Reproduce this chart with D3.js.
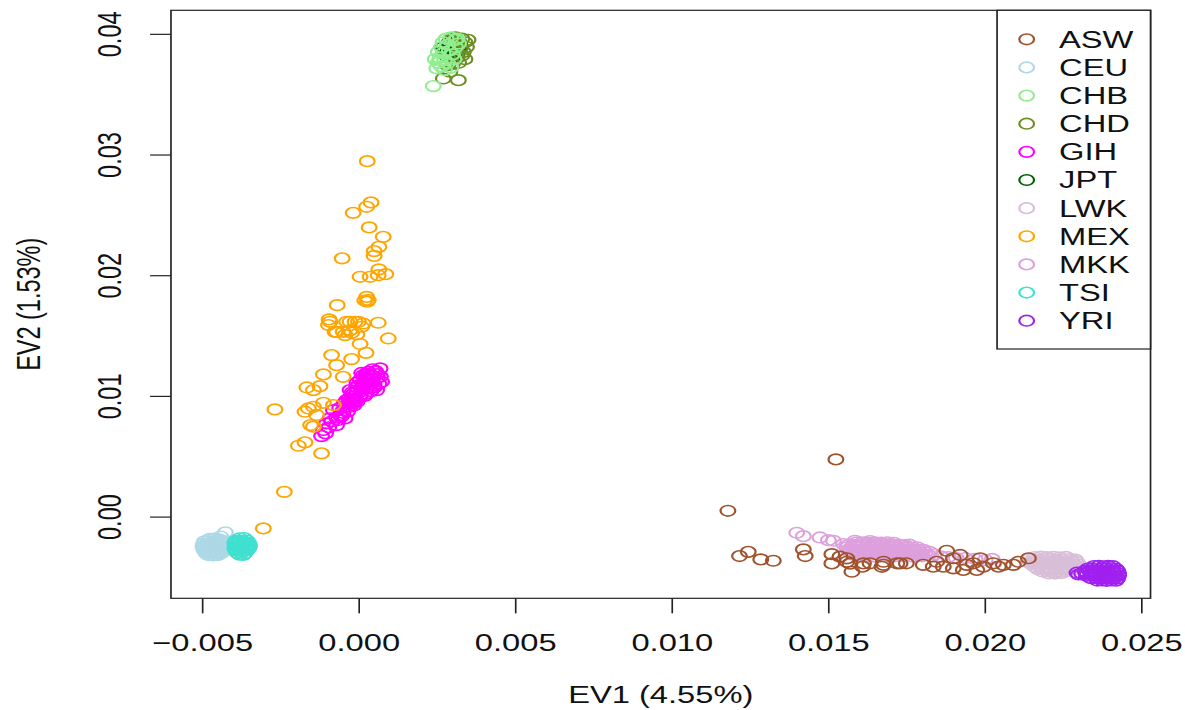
<!DOCTYPE html>
<html><head><meta charset="utf-8">
<script src="https://cdn.jsdelivr.net/npm/d3@7"></script>
<style>html,body{margin:0;padding:0;background:#fff;overflow:hidden}</style>
</head><body>
<svg id="chart" width="1185" height="710" viewBox="0 0 852.5 710" preserveAspectRatio="none"></svg>
<script>
// ---------------- data ----------------
const populations = ["ASW","CEU","CHB","CHD","GIH","JPT","LWK","MEX","MKK","TSI","YRI"];
const popColors   = ["#A0522D","#ADD8E6","#90EE90","#6B8E23","#FF00FF","#006400","#D8BFD8","#FFA500","#DDA0DD","#40E0D0","#A020F0"];
const drawOrder   = ["CEU","TSI","JPT","CHD","CHB","GIH","MEX","MKK","LWK","ASW","YRI"];

const ASW = [[0.01525,0.00474],[0.01180,0.00048],[0.01217,-0.00327],[0.01245,-0.00292],[0.01285,-0.00355],[0.01325,-0.00366],[0.01421,-0.00272],[0.01427,-0.00327],[0.01512,-0.00311],[0.01512,-0.00388],[0.01560,-0.00346],[0.01576,-0.00457],[0.01570,-0.00390],[0.01613,-0.00388],[0.01672,-0.00416],[0.01677,-0.00374],[0.01730,-0.00388],[0.01538,-0.00332],[0.01560,-0.00374],[0.01677,-0.00400],[0.01720,-0.00387],[0.01804,-0.00400],[0.01847,-0.00374],[0.01879,-0.00283],[0.01900,-0.00345],[0.01922,-0.00318],[0.01943,-0.00400],[0.01964,-0.00387],[0.01986,-0.00345],[0.01996,-0.00415],[0.02028,-0.00387],[0.02060,-0.00400],[0.02092,-0.00400],[0.02140,-0.00345],[0.01932,-0.00442],[0.01868,-0.00415],[0.01750,-0.00387],[0.01634,-0.00387],[0.01610,-0.00415],[0.01975,-0.00442],[0.02044,-0.00415],[0.02108,-0.00374],[0.01900,-0.00429],[0.01836,-0.00415]];
const CEU = [[-0.00425,-0.00130],[-0.00440,-0.00165],
 [-0.00475,-0.00185],[-0.00460,-0.00182],[-0.00445,-0.00188],
 [-0.00492,-0.00205],[-0.00480,-0.00203],[-0.00468,-0.00207],[-0.00455,-0.00204],[-0.00442,-0.00206],[-0.00430,-0.00203],
 [-0.00495,-0.00225],[-0.00485,-0.00227],[-0.00473,-0.00224],[-0.00460,-0.00226],[-0.00448,-0.00223],[-0.00436,-0.00227],[-0.00428,-0.00225],
 [-0.00497,-0.00245],[-0.00488,-0.00246],[-0.00476,-0.00243],[-0.00463,-0.00246],[-0.00450,-0.00244],[-0.00438,-0.00247],[-0.00428,-0.00245],
 [-0.00495,-0.00265],[-0.00485,-0.00266],[-0.00472,-0.00263],[-0.00460,-0.00267],[-0.00448,-0.00264],[-0.00436,-0.00266],[-0.00429,-0.00264],
 [-0.00492,-0.00285],[-0.00482,-0.00286],[-0.00470,-0.00283],[-0.00458,-0.00287],[-0.00446,-0.00284],[-0.00435,-0.00285],
 [-0.00486,-0.00305],[-0.00474,-0.00306],[-0.00462,-0.00303],[-0.00450,-0.00306],[-0.00439,-0.00304],
 [-0.00478,-0.00320],[-0.00464,-0.00322],[-0.00450,-0.00319]];
const CHB = [[0.00239,0.03567],[0.00250,0.03714],[0.00255,0.0376],[0.00260,0.0380],[0.00255,0.0385],[0.00265,0.0389],[0.00270,0.0393],[0.00280,0.0396],[0.00295,0.0397],[0.00310,0.0395],[0.00320,0.0392],[0.00265,0.0373],[0.00275,0.0370],[0.00285,0.0376],[0.00270,0.0384],[0.00290,0.0386],[0.00300,0.0383],[0.00305,0.0379],[0.00260,0.0378],[0.00275,0.03785],[0.00315,0.0396],[0.00285,0.0391],[0.00245,0.0379],[0.00295,0.0372],[0.00310,0.0389]];
const CHD = [[0.00330,0.0396],[0.00340,0.0393],[0.00345,0.0389],[0.00335,0.0385],[0.00320,0.0394],[0.00310,0.0397],[0.00350,0.0395],[0.00330,0.0382],[0.00340,0.0379],[0.00320,0.0376],[0.00300,0.0375],[0.00285,0.0374],[0.00319,0.03616],[0.00271,0.0363],[0.00292,0.03686],[0.00315,0.0380],[0.00305,0.0390],[0.00295,0.0395],[0.00325,0.0388]];
const GIH = [[-0.00118,0.00667],[-0.00112,0.00717],[-0.00102,0.00772],[-0.00070,0.00758],[-0.00059,0.00841],[-0.00080,0.00882],[-0.00049,0.00882],[-0.00027,0.00910],[-0.00038,0.00965],[-0.00017,0.00992],[0.00005,0.01007],[-0.00027,0.01048],[-0.00006,0.01075],[0.00015,0.01075],[0.00037,0.01062],[0.00005,0.01131],[0.00026,0.01145],[0.00047,0.01158],[0.00069,0.01228],[0.00053,0.01200],[0.00031,0.01200],[0.00074,0.01117],[0.00058,0.01048],[-0.00043,0.00814],[-0.00091,0.00814],[-0.00095,0.00740],[-0.00085,0.00790],[-0.00060,0.00900],[-0.00045,0.00940],[-0.00010,0.00960],[0.00010,0.01040],[0.00020,0.01100],[0.00040,0.01110],[0.00035,0.01180],[0.00015,0.01170],[-0.00015,0.01020],[0.00000,0.01090],[0.00045,0.01220],[0.00060,0.01180],[-0.00030,0.00980],[0.00025,0.01020],[-0.00065,0.00800],[-0.00105,0.00690],[0.00050,0.01090],[0.00010,0.01190],
 [-0.00035,0.00930],[-0.00020,0.00940],[-0.00005,0.00950],[-0.00025,0.00970],[-0.00010,0.00980],[0.00005,0.00990],[0.00020,0.01000],[-0.00020,0.01030],[-0.00005,0.01040],[0.00010,0.01060],[0.00025,0.01060],[0.00040,0.01040],[0.00050,0.01070],[0.00030,0.01090],[0.00015,0.01100],[-0.00005,0.01110],[0.00030,0.01130],[0.00045,0.01140],[0.00060,0.01150],[0.00020,0.01150],[0.00040,0.01170],[0.00055,0.01205],[0.00025,0.01185],[0.00065,0.01100],[0.00070,0.01160],[-0.00050,0.00860],[-0.00070,0.00820],[-0.00055,0.00830],[-0.00035,0.00870],[-0.00015,0.00920]];
const JPT = [[0.00275,0.0386],[0.00285,0.0389],[0.00295,0.0384],[0.00305,0.0388],[0.00315,0.0391],[0.00290,0.0393],[0.00300,0.0381],[0.00280,0.0382],[0.00310,0.0385],[0.00320,0.0387],[0.00270,0.0389],[0.00295,0.0387],[0.00305,0.0392],[0.00285,0.0385],[0.00315,0.0383],[0.00325,0.0390],[0.00290,0.0380],[0.00300,0.0395]];
const LWK = [[0.02160,-0.00335],[0.02180,-0.00332],[0.02200,-0.00336],[0.02220,-0.00333],[0.02240,-0.00337],[0.02260,-0.00334],
 [0.02140,-0.00355],[0.02155,-0.00353],[0.02170,-0.00357],[0.02185,-0.00354],[0.02200,-0.00356],[0.02215,-0.00353],[0.02230,-0.00357],[0.02245,-0.00354],[0.02260,-0.00356],[0.02275,-0.00353],[0.02290,-0.00357],
 [0.02145,-0.00375],[0.02160,-0.00373],[0.02175,-0.00377],[0.02190,-0.00374],[0.02205,-0.00376],[0.02220,-0.00373],[0.02235,-0.00377],[0.02250,-0.00374],[0.02265,-0.00376],[0.02280,-0.00373],[0.02295,-0.00377],
 [0.02150,-0.00395],[0.02165,-0.00393],[0.02180,-0.00397],[0.02195,-0.00394],[0.02210,-0.00396],[0.02225,-0.00393],[0.02240,-0.00397],[0.02255,-0.00394],[0.02270,-0.00396],[0.02285,-0.00393],[0.02300,-0.00397],
 [0.02160,-0.00415],[0.02175,-0.00413],[0.02190,-0.00417],[0.02205,-0.00414],[0.02220,-0.00416],[0.02235,-0.00413],[0.02250,-0.00417],[0.02265,-0.00414],[0.02280,-0.00416],[0.02295,-0.00413],
 [0.02170,-0.00435],[0.02185,-0.00433],[0.02200,-0.00437],[0.02215,-0.00434],[0.02230,-0.00436],[0.02245,-0.00433],[0.02260,-0.00437],[0.02275,-0.00434],[0.02290,-0.00436],
 [0.02185,-0.00455],[0.02200,-0.00453],[0.02215,-0.00457],[0.02230,-0.00454],[0.02245,-0.00456],[0.02260,-0.00453],
 [0.02205,-0.00470],[0.02225,-0.00472],[0.02245,-0.00469]];
const MEX = [[0.00028,0.02945],[0.00040,0.02603],[0.00026,0.02567],[-0.00017,0.02517],[0.00034,0.02396],[0.00079,0.02318],[0.00065,0.02235],[0.00050,0.02200],[0.00050,0.02160],[-0.00052,0.02140],[0.00065,0.02048],[0.00087,0.02009],[0.00005,0.01987],[0.00037,0.01987],[0.00063,0.02000],[0.00026,0.01820],[0.00031,0.01794],[0.00020,0.01790],[0.00028,0.01780],[-0.00068,0.01752],[-0.00094,0.01634],[-0.00096,0.01587],[-0.00027,0.01614],[0.00000,0.01614],[0.00063,0.01606],[-0.00075,0.01531],[-0.00049,0.01531],[-0.00022,0.01523],[0.00010,0.01573],[0.00095,0.01476],[-0.00091,0.01614],[-0.00038,0.01614],[-0.00011,0.01614],[0.00015,0.01600],[-0.00070,0.01530],[-0.00027,0.01545],[-0.00005,0.01510],[-0.00043,0.01504],[0.00005,0.01430],[0.00024,0.01357],[-0.00086,0.01338],[-0.00022,0.01305],[-0.00070,0.01255],[-0.00112,0.01178],[-0.00049,0.01158],[-0.00165,0.01070],[-0.00123,0.01081],[-0.00144,0.01048],[-0.00267,0.00888],[-0.00160,0.00896],[-0.00144,0.00910],[-0.00112,0.00943],[-0.00080,0.00924],[-0.00153,0.00758],[-0.00192,0.00587],[-0.00171,0.00615],[-0.00118,0.00524],[-0.00237,0.00205],[-0.00304,-0.00098],[-0.00171,0.00869],[-0.00134,0.00842],[-0.00144,0.00745]];
const MKK = [[0.01400,-0.00134],[0.01421,-0.00162],[0.01474,-0.00173],[0.01501,-0.00195],[0.01517,-0.00200],[0.01549,-0.00228],[0.01586,-0.00200],[0.01634,-0.00203],
 [0.01590,-0.00215],[0.01610,-0.00213],[0.01630,-0.00217],[0.01650,-0.00214],[0.01670,-0.00216],[0.01690,-0.00213],[0.01710,-0.00217],
 [0.01565,-0.00235],[0.01580,-0.00233],[0.01595,-0.00237],[0.01610,-0.00234],[0.01625,-0.00236],[0.01640,-0.00233],[0.01655,-0.00237],[0.01670,-0.00234],[0.01685,-0.00236],[0.01700,-0.00233],[0.01715,-0.00237],[0.01730,-0.00234],[0.01745,-0.00236],[0.01760,-0.00233],
 [0.01560,-0.00255],[0.01575,-0.00253],[0.01590,-0.00257],[0.01605,-0.00254],[0.01620,-0.00256],[0.01635,-0.00253],[0.01650,-0.00257],[0.01665,-0.00254],[0.01680,-0.00256],[0.01695,-0.00253],[0.01710,-0.00257],[0.01725,-0.00254],[0.01740,-0.00256],[0.01755,-0.00253],[0.01770,-0.00257],[0.01785,-0.00254],
 [0.01565,-0.00275],[0.01580,-0.00273],[0.01595,-0.00277],[0.01610,-0.00274],[0.01625,-0.00276],[0.01640,-0.00273],[0.01655,-0.00277],[0.01670,-0.00274],[0.01685,-0.00276],[0.01700,-0.00273],[0.01715,-0.00277],[0.01730,-0.00274],[0.01745,-0.00276],[0.01760,-0.00273],[0.01775,-0.00277],[0.01790,-0.00274],[0.01805,-0.00276],
 [0.01570,-0.00295],[0.01585,-0.00293],[0.01600,-0.00297],[0.01615,-0.00294],[0.01630,-0.00296],[0.01645,-0.00293],[0.01660,-0.00297],[0.01675,-0.00294],[0.01690,-0.00296],[0.01705,-0.00293],[0.01720,-0.00297],[0.01735,-0.00294],[0.01750,-0.00296],[0.01765,-0.00293],[0.01780,-0.00297],[0.01795,-0.00294],[0.01810,-0.00296],[0.01825,-0.00293],
 [0.01580,-0.00315],[0.01600,-0.00313],[0.01620,-0.00317],[0.01640,-0.00314],[0.01660,-0.00316],[0.01680,-0.00313],[0.01700,-0.00317],[0.01720,-0.00314],[0.01740,-0.00316],[0.01760,-0.00313],[0.01780,-0.00317],[0.01800,-0.00314],[0.01820,-0.00316],[0.01840,-0.00313],
 [0.01620,-0.00330],[0.01650,-0.00332],[0.01680,-0.00329],[0.01710,-0.00331],[0.01740,-0.00330],[0.01770,-0.00332],[0.01800,-0.00329],[0.01830,-0.00331],[0.01860,-0.00330],
 [0.01884,-0.00335],[0.01909,-0.00343],[0.01938,-0.00343],[0.01970,-0.00351],[0.02002,-0.00360],[0.02024,-0.00351]];
const TSI = [[-0.00380,-0.00180],[-0.00365,-0.00178],
 [-0.00392,-0.00200],[-0.00380,-0.00198],[-0.00368,-0.00202],[-0.00356,-0.00199],
 [-0.00395,-0.00220],[-0.00383,-0.00218],[-0.00371,-0.00222],[-0.00359,-0.00219],[-0.00350,-0.00221],
 [-0.00393,-0.00240],[-0.00381,-0.00238],[-0.00369,-0.00242],[-0.00357,-0.00239],[-0.00348,-0.00241],
 [-0.00395,-0.00260],[-0.00383,-0.00258],[-0.00370,-0.00262],[-0.00358,-0.00259],[-0.00350,-0.00261],
 [-0.00392,-0.00280],[-0.00380,-0.00278],[-0.00368,-0.00282],[-0.00356,-0.00279],
 [-0.00388,-0.00300],[-0.00375,-0.00298],[-0.00362,-0.00302],
 [-0.00380,-0.00315],[-0.00368,-0.00317]];
const YRI = [[0.02350,-0.00410],[0.02365,-0.00408],[0.02380,-0.00412],[0.02395,-0.00409],[0.02410,-0.00411],
 [0.02330,-0.00430],[0.02345,-0.00428],[0.02360,-0.00432],[0.02375,-0.00429],[0.02390,-0.00431],[0.02405,-0.00428],[0.02420,-0.00432],
 [0.02320,-0.00450],[0.02335,-0.00448],[0.02350,-0.00452],[0.02365,-0.00449],[0.02380,-0.00451],[0.02395,-0.00448],[0.02410,-0.00452],[0.02425,-0.00449],
 [0.02310,-0.00470],[0.02325,-0.00468],[0.02340,-0.00472],[0.02355,-0.00469],[0.02370,-0.00471],[0.02385,-0.00468],[0.02400,-0.00472],[0.02415,-0.00469],[0.02428,-0.00471],
 [0.02325,-0.00490],[0.02340,-0.00488],[0.02355,-0.00492],[0.02370,-0.00489],[0.02385,-0.00491],[0.02400,-0.00488],[0.02415,-0.00492],[0.02428,-0.00489],
 [0.02340,-0.00510],[0.02355,-0.00508],[0.02370,-0.00512],[0.02385,-0.00509],[0.02400,-0.00511],[0.02415,-0.00508],[0.02425,-0.00512],
 [0.02360,-0.00530],[0.02375,-0.00528],[0.02390,-0.00532],[0.02405,-0.00529],[0.02420,-0.00531],
 [0.02300,-0.00480],[0.02295,-0.00465]];

const xTicks = [-0.005, 0, 0.005, 0.010, 0.015, 0.020, 0.025];
const xTickLabels = ["\u22120.005","0.000","0.005","0.010","0.015","0.020","0.025"];
const yTicks = [0, 0.01, 0.02, 0.03, 0.04];
const yTickLabels = ["0.00","0.01","0.02","0.03","0.04"];
const xTitle = "EV1 (4.55%)";
const yTitle = "EV2 (1.53%)";

const popData = {ASW, CEU, CHB, CHD, GIH, JPT, LWK, MEX, MKK, TSI, YRI};

// ---------------- drawing ----------------
const FONT = "'Liberation Sans', Arial, Helvetica, sans-serif";
const FS = 23.5;
const plot = {left: 123.0, right: 827.7, top: 10.3, bottom: 598.3};
const svg = d3.select("#chart");
svg.append("rect").attr("width", 852.5).attr("height", 710).attr("fill", "#fff");

const x = d3.scaleLinear().domain([-0.00599, 0.02530]).range([plot.left, plot.right]);
const y = d3.scaleLinear().domain([-0.00677, 0.04195]).range([plot.bottom, plot.top]);
const color = d3.scaleOrdinal().domain(populations).range(popColors);

const R = 5.3, SW = 1.6;

const pts = svg.append("g");
drawOrder.forEach(p => {
  pts.append("g").selectAll("circle").data(popData[p]).join("circle")
    .attr("cx", d => x(d[0])).attr("cy", d => y(d[1])).attr("r", R)
    .attr("fill", "none").attr("stroke", color(p)).attr("stroke-width", SW);
});

// box
svg.append("rect").attr("x", plot.left).attr("y", plot.top)
  .attr("width", plot.right - plot.left).attr("height", plot.bottom - plot.top)
  .attr("fill", "none").attr("stroke", "#222").attr("stroke-width", 1.2);

// x axis
const gx = svg.append("g").attr("transform", `translate(0,${plot.bottom})`)
  .call(d3.axisBottom(x).tickValues(xTicks).tickFormat((d, i) => xTickLabels[i]).tickSize(15));
gx.select(".domain").remove();
gx.selectAll(".tick line").attr("stroke", "#222").attr("stroke-width", 1.2);
gx.selectAll(".tick text").attr("y", 53.2).attr("dy", null)
  .attr("font-family", FONT).attr("font-size", FS).attr("fill", "#111");

// y axis
const gy = svg.append("g").attr("transform", `translate(${plot.left},0)`)
  .call(d3.axisLeft(y).tickValues(yTicks).tickFormat((d, i) => yTickLabels[i]).tickSize(15));
gy.select(".domain").remove();
gy.selectAll(".tick line").attr("stroke", "#222").attr("stroke-width", 1.2);
gy.selectAll(".tick text").attr("x", null).attr("dy", null)
  .attr("transform", "translate(-36,0) rotate(-90)")
  .attr("text-anchor", "middle")
  .attr("font-family", FONT).attr("font-size", FS).attr("fill", "#111");

// titles
svg.append("text").attr("x", (plot.left + plot.right) / 2).attr("y", 703)
  .attr("text-anchor", "middle").attr("font-family", FONT).attr("font-size", FS).attr("fill", "#111")
  .text(xTitle);
svg.append("text").attr("transform", `translate(28.8,${(plot.top + plot.bottom) / 2}) rotate(-90)`)
  .attr("text-anchor", "middle").attr("font-family", FONT).attr("font-size", FS).attr("fill", "#111")
  .text(yTitle);

// legend
const leg = {left: 717.3, top: plot.top, right: plot.right, bottom: 349, row0: 39.3, step: 28.14, sym: 738.6, txt: 761.9};
svg.append("rect").attr("x", leg.left).attr("y", leg.top)
  .attr("width", leg.right - leg.left).attr("height", leg.bottom - leg.top)
  .attr("fill", "#fff").attr("stroke", "#222").attr("stroke-width", 1.2);
const li = svg.append("g").selectAll("g").data(populations).join("g")
  .attr("transform", (d, i) => `translate(0,${leg.row0 + i * leg.step})`);
li.append("circle").attr("cx", leg.sym).attr("cy", 0).attr("r", R)
  .attr("fill", "none").attr("stroke", d => color(d)).attr("stroke-width", SW);
li.append("text").attr("x", leg.txt).attr("y", 0).attr("dy", "0.36em")
  .attr("font-family", FONT).attr("font-size", FS).attr("fill", "#111").text(d => d);
</script>
</body></html>
